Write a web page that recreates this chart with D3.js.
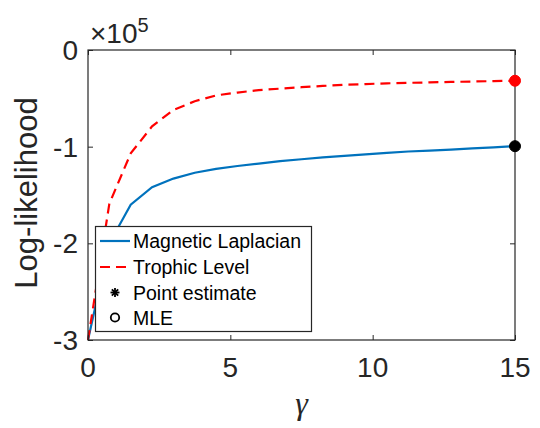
<!DOCTYPE html>
<html><head><meta charset="utf-8">
<script src="https://cdn.jsdelivr.net/npm/d3@7"></script>
<style>body{margin:0;background:#fff}svg{display:block}</style>
</head><body>
<svg id="c" width="540" height="428"></svg>
<script>
const gammaVals = [0,0.75,1.5,2.25,3,3.75,4.5,5.25,6,6.75,7.5,8.25,9,9.75,10.5,11.25,12,12.75,13.5,14.25,15];
const magneticLaplacian = [-3.0,-2.0,-1.60,-1.42,-1.33,-1.27,-1.23,-1.20,-1.175,-1.15,-1.13,-1.11,-1.095,-1.08,-1.065,-1.05,-1.04,-1.03,-1.018,-1.007,-0.995];
const trophicLevel = [-3.0,-1.59,-1.07,-0.79,-0.62,-0.53,-0.47,-0.44,-0.415,-0.40,-0.385,-0.372,-0.36,-0.352,-0.345,-0.34,-0.335,-0.33,-0.326,-0.322,-0.318];
const estimates = [{series:"Magnetic Laplacian", g:15, v:-0.995, color:"#000000"},{series:"Trophic Level", g:15, v:-0.318, color:"#FF0000"}];
const xTicks = [0,5,10,15];
const yTicks = [0,-1,-2,-3];
const legendItems = ["Magnetic Laplacian","Trophic Level","Point estimate","MLE"];

const svg = d3.select("#c");
const L=88, R=515, T=50, B=340;
const x = d3.scaleLinear().domain([0,15]).range([L,R]);
const y = d3.scaleLinear().domain([-3,0]).range([B,T]);
const axCol = "#262626";
const font = "'Liberation Sans', Arial, Helvetica, sans-serif";

// lines
const line = d3.line().x((d,i)=>x(gammaVals[i])).y(d=>y(d));
svg.append("path").datum(magneticLaplacian).attr("d",line).attr("fill","none").attr("stroke","#0072BD").attr("stroke-width",2.2);
svg.append("path").datum(trophicLevel).attr("d",line).attr("fill","none").attr("stroke","#FF0000").attr("stroke-width",2.2).attr("stroke-dasharray","10,6");

// frame + ticks
const g = svg.append("g");
g.append("rect").attr("x",L).attr("y",T).attr("width",R-L).attr("height",B-T).attr("fill","none").attr("stroke",axCol).attr("stroke-width",1.2);
const xb = d3.axisBottom(x).tickValues(xTicks).tickSize(-5).tickFormat("");
const xt = d3.axisTop(x).tickValues(xTicks).tickSize(-5).tickFormat("");
const yl = d3.axisLeft(y).tickValues(yTicks).tickSize(-5).tickFormat("");
const yr = d3.axisRight(y).tickValues(yTicks).tickSize(-5).tickFormat("");
[[xb,`translate(0,${B})`],[xt,`translate(0,${T})`],[yl,`translate(${L},0)`],[yr,`translate(${R},0)`]].forEach(([a,t])=>{
  const ga = svg.append("g").attr("transform",t).call(a);
  ga.select(".domain").remove();
  ga.selectAll("line").attr("stroke",axCol).attr("stroke-width",1);
});
// tick labels
svg.append("g").selectAll("text").data(xTicks).join("text")
  .attr("x",d=>x(d)).attr("y",B+37).attr("text-anchor","middle")
  .attr("font-family",font).attr("font-size",28).attr("fill",axCol).text(d=>d);
svg.append("g").selectAll("text").data(yTicks).join("text")
  .attr("x",L-10).attr("y",d=>y(d)+10).attr("text-anchor","end")
  .attr("font-family",font).attr("font-size",28).attr("fill",axCol).text(d=>d===0?"0":"-"+Math.abs(d));
// exponent
const ex = svg.append("text").attr("x",90).attr("y",43).attr("font-family",font).attr("fill",axCol).attr("font-size",28);
ex.append("tspan").text("\u00D710");
ex.append("tspan").attr("font-size",20).attr("dy",-11).text("5");
// axis labels
svg.append("text").attr("transform",`translate(37,${(T+B)/2-2}) rotate(-90)`).attr("text-anchor","middle")
  .attr("font-family",font).attr("font-size",31).attr("fill",axCol).text("Log-likelihood");
svg.append("text").attr("x",(L+R)/2).attr("y",414).attr("text-anchor","middle")
  .attr("font-family","'Liberation Serif','DejaVu Serif',serif").attr("font-style","italic").attr("font-size",32).attr("fill",axCol).text("\u03B3");

// estimate markers
estimates.forEach(e=>{
  svg.append("circle").attr("cx",x(e.g)).attr("cy",y(e.v)).attr("r",5.5).attr("fill",e.color).attr("stroke",e.color).attr("stroke-width",1);
});

// legend
const lg = svg.append("g");
lg.append("rect").attr("x",95.5).attr("y",226.5).attr("width",216).attr("height",105).attr("fill","#fff").attr("stroke",axCol).attr("stroke-width",1.2);
const rowY = [241,267,292.5,317.5];
lg.append("line").attr("x1",100).attr("x2",130).attr("y1",rowY[0]).attr("y2",rowY[0]).attr("stroke","#0072BD").attr("stroke-width",2.2);
lg.append("line").attr("x1",100).attr("x2",130).attr("y1",rowY[1]).attr("y2",rowY[1]).attr("stroke","#FF0000").attr("stroke-width",2.2).attr("stroke-dasharray","10,6");
// asterisk
const ast = lg.append("g").attr("transform",`translate(115,${rowY[2]})`);
[0,45,90,135].forEach(a=>ast.append("line").attr("x1",-4.5).attr("x2",4.5).attr("y1",0).attr("y2",0).attr("transform",`rotate(${a})`).attr("stroke","#000").attr("stroke-width",1.8));
lg.append("circle").attr("cx",115).attr("cy",rowY[3]).attr("r",4.2).attr("fill","none").attr("stroke","#000").attr("stroke-width",1.8);
lg.selectAll("text.li").data(legendItems).join("text").attr("class","li")
  .attr("x",133).attr("y",(d,i)=>rowY[i]+7).attr("font-family",font).attr("font-size",19.5).attr("fill","#000").text(d=>d);
</script>
</body></html>
